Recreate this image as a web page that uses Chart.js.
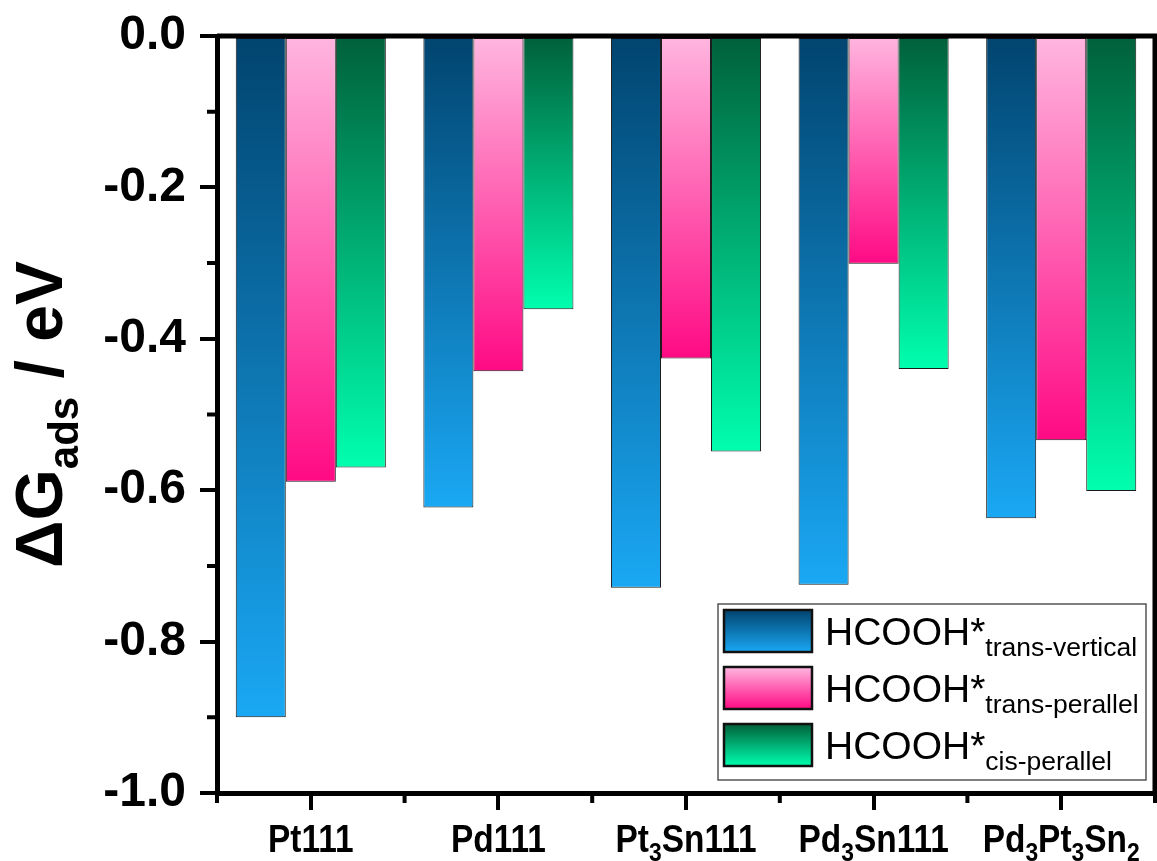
<!DOCTYPE html>
<html>
<head>
<meta charset="utf-8">
<script src="https://cdn.jsdelivr.net/npm/chart.js@4.4.1/dist/chart.umd.min.js"></script>
<style>
  html, body { margin: 0; padding: 0; background: #fff; }
</style>
</head>
<body>
<canvas id="chart-canvas" width="1157" height="861"></canvas>
<script>
// categories, '_' marks the next character as subscript
const categories = ['Pt111', 'Pd111', 'Pt_3Sn111', 'Pd_3Sn111', 'Pd_3Pt_3Sn_2'];
const transVertical = [-0.900, -0.623, -0.729, -0.725, -0.637];
const transParallel = [-0.589, -0.443, -0.426, -0.301, -0.534];
const cisParallel = [-0.570, -0.361, -0.549, -0.440, -0.601];
const seriesNames = ['trans-vertical', 'trans-perallel', 'cis-perallel'];
const yTicks = [0, -0.2, -0.4, -0.6, -0.8, -1.0];
const yMinorTicks = [-0.1, -0.3, -0.5, -0.7, -0.9];

const FONT = 'Arial, "Liberation Sans", sans-serif';
// top colour, bottom colour of each series
const gradColors = [
    ['#01446f', '#1aa8f4'],
    ['#ffb6df', '#ff0a84'],
    ['#00603b', '#00ffae']
];

function barGradient(idx) {
    return function(c) {
        const chart = c.chart;
        if (!chart.chartArea || c.raw === undefined) return gradColors[idx][1];
        const y = chart.scales.y;
        const g = chart.ctx.createLinearGradient(0, y.getPixelForValue(0), 0, y.getPixelForValue(c.raw));
        g.addColorStop(0, gradColors[idx][0]);
        g.addColorStop(1, gradColors[idx][1]);
        return g;
    };
}

function parseRich(str, size, subSize, weight, dy) {
    const parts = [];
    for (let i = 0; i < str.length; i++) {
        if (str[i] === '_') {
            i++;
            parts.push({ t: str[i], size: subSize, weight: weight, dy: dy });
        } else {
            const last = parts[parts.length - 1];
            if (last && last.size === size) last.t += str[i];
            else parts.push({ t: str[i], size: size, weight: weight, dy: 0 });
        }
    }
    return parts;
}

function drawParts(ctx, parts, x, y, align) {
    let total = 0;
    parts.forEach(p => {
        ctx.font = p.weight + ' ' + p.size + 'px ' + FONT;
        p.w = ctx.measureText(p.t).width;
        total += p.w;
    });
    let cx = align === 'center' ? x - total / 2 : x;
    ctx.textAlign = 'left';
    ctx.textBaseline = 'alphabetic';
    parts.forEach(p => {
        ctx.font = p.weight + ' ' + p.size + 'px ' + FONT;
        ctx.fillText(p.t, cx, y + p.dy);
        cx += p.w;
    });
}

const extras = {
    id: 'extras',
    afterDraw(chart) {
        const ctx = chart.ctx;
        const area = chart.chartArea;
        const xs = chart.scales.x, ys = chart.scales.y;
        ctx.save();
        ctx.strokeStyle = '#000';
        ctx.fillStyle = '#000';

        // frame top and right
        ctx.lineWidth = 5;
        ctx.beginPath();
        ctx.moveTo(area.left, area.top);
        ctx.lineTo(area.right + 2, area.top);
        ctx.moveTo(area.right, area.top);
        ctx.lineTo(area.right, area.bottom);
        ctx.stroke();

        // minor ticks
        ctx.lineWidth = 4;
        ctx.beginPath();
        yMinorTicks.forEach(v => {
            const py = ys.getPixelForValue(v);
            ctx.moveTo(area.left - 10, py);
            ctx.lineTo(area.left, py);
        });
        for (let i = 0; i <= categories.length; i++) {
            const px = xs.getPixelForValue(i - 0.5);
            ctx.moveTo(px, area.bottom);
            ctx.lineTo(px, area.bottom + 10);
        }
        ctx.stroke();

        // x labels
        categories.forEach((c, i) => {
            const px = xs.getPixelForValue(i);
            ctx.save();
            ctx.translate(px, 852);
            ctx.scale(0.88, 1);
            drawParts(ctx, parseRich(c, 38, 26, 'bold', 9), 0, 0, 'center');
            ctx.restore();
        });

        // y title
        ctx.save();
        ctx.translate(62, (area.top + area.bottom) / 2);
        ctx.rotate(-Math.PI / 2);
        drawParts(ctx, [
            { t: '\u0394G', size: 66, weight: 'bold', dy: 0 },
            { t: 'ads', size: 42, weight: 'bold', dy: 16 },
            { t: ' / eV', size: 66, weight: 'bold', dy: 0 }
        ], 0, 0, 'center');
        ctx.restore();

        // legend
        ctx.fillStyle = '#fff';
        ctx.fillRect(718, 604, 428, 176);
        ctx.lineWidth = 1.5;
        ctx.strokeStyle = '#555';
        ctx.strokeRect(718, 604, 428, 176);
        seriesNames.forEach((name, i) => {
            const top = 610 + i * 57;
            const g = ctx.createLinearGradient(0, top, 0, top + 42);
            g.addColorStop(0, gradColors[i][0]);
            g.addColorStop(1, gradColors[i][1]);
            ctx.fillStyle = g;
            ctx.fillRect(724, top, 88, 42);
            ctx.lineWidth = 2.5;
            ctx.strokeStyle = '#111';
            ctx.strokeRect(724, top, 88, 42);
            ctx.fillStyle = '#000';
            drawParts(ctx, [
                { t: 'HCOOH*', size: 39, weight: 'normal', dy: 0 },
                { t: name, size: 26.5, weight: 'normal', dy: 11 }
            ], 825, top + 35, 'left');
        });
        ctx.restore();
    }
};

new Chart(document.getElementById('chart-canvas').getContext('2d'), {
    type: 'bar',
    data: {
        labels: categories,
        datasets: [
            { label: 'HCOOH* trans-vertical', data: transVertical, backgroundColor: barGradient(0) },
            { label: 'HCOOH* trans-perallel', data: transParallel, backgroundColor: barGradient(1) },
            { label: 'HCOOH* cis-perallel', data: cisParallel, backgroundColor: barGradient(2) }
        ]
    },
    options: {
        responsive: false,
        animation: false,
        layout: { padding: { top: 36, right: 2, left: 0, bottom: 0 } },
        datasets: {
            bar: {
                categoryPercentage: 0.8,
                barPercentage: 1.0,
                borderColor: '#1a1a1a',
                borderWidth: 1,
                borderSkipped: false
            }
        },
        plugins: {
            legend: { display: false },
            tooltip: { enabled: false }
        },
        scales: {
            x: {
                grid: { offset: false, drawOnChartArea: false, tickLength: 17, lineWidth: 4, color: '#000' },
                border: { color: '#000', width: 5 },
                ticks: { display: false },
                afterFit(scale) { scale.height = 68; scale.paddingLeft = 0; scale.paddingRight = 0; }
            },
            y: {
                min: -1,
                max: 0,
                afterBuildTicks(scale) { scale.ticks = yTicks.map(v => ({ value: v })); },
                ticks: {
                    callback: v => v.toFixed(1),
                    color: '#000',
                    padding: 14,
                    font: { family: FONT, size: 48, weight: 'bold', lineHeight: 1 }
                },
                grid: { drawOnChartArea: false, tickLength: 17, lineWidth: 4, color: '#000' },
                border: { color: '#000', width: 5 },
                afterFit(scale) { scale.width = 217; scale.paddingTop = 0; scale.paddingBottom = 0; }
            }
        }
    },
    plugins: [extras]
});
</script>
</body>
</html>
